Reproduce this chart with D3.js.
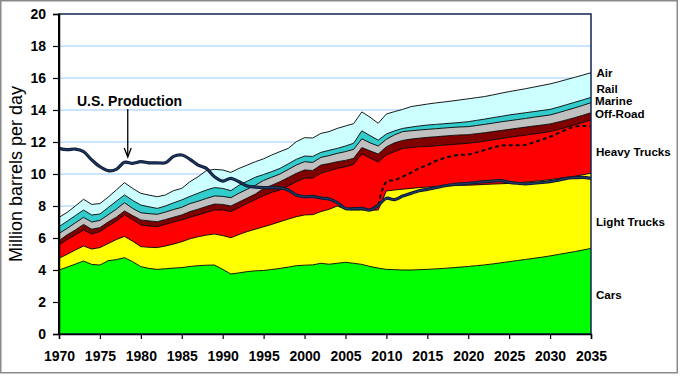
<!DOCTYPE html>
<html><head><meta charset="utf-8">
<script src="https://cdn.jsdelivr.net/npm/d3@7"></script>
<style>
html,body{margin:0;padding:0;background:#fff;}
svg{display:block;font-family:"Liberation Sans",Arial,sans-serif;}
</style></head>
<body><svg id="chart" width="680" height="376"></svg>
<script>
// ---------------- DATA (million barrels per day) ----------------
const years = d3.range(1970, 2036);
const cars = [4.00,4.18,4.37,4.56,4.35,4.31,4.58,4.65,4.77,4.52,4.21,4.10,4.04,4.08,4.12,4.15,4.22,4.27,4.30,4.31,
  4.04,3.75,3.82,3.90,3.95,3.97,4.03,4.10,4.18,4.27,4.30,4.32,4.42,4.36,4.42,4.48,4.42,4.35,4.22,4.12,
  4.04,4.02,4.00,4.00,4.02,4.04,4.07,4.10,4.14,4.18,4.22,4.27,4.32,4.38,4.45,4.52,4.59,4.66,4.73,4.80,
  4.88,4.97,5.06,5.15,5.25,5.35];
const lightTrucks = [0.73,0.80,0.88,0.94,0.96,1.09,1.07,1.25,1.33,1.28,1.25,1.32,1.36,1.42,1.50,1.62,1.73,1.81,1.88,1.94,
  2.11,2.27,2.40,2.50,2.60,2.73,2.82,2.92,3.00,3.06,3.14,3.14,3.23,3.43,3.58,3.32,3.33,3.40,3.51,3.63,
  4.90,4.98,5.05,5.10,5.13,5.14,5.14,5.14,5.13,5.11,5.08,5.05,5.03,4.99,4.94,4.89,4.86,4.83,4.81,4.79,
  4.77,4.75,4.73,4.71,4.70,4.70];
const heavyTrucks = [0.83,0.92,0.95,1.00,0.94,1.00,1.10,1.15,1.34,1.35,1.35,1.33,1.31,1.35,1.38,1.36,1.35,1.36,1.42,1.50,
  1.60,1.63,1.68,1.77,1.85,1.95,2.00,1.98,2.07,2.19,2.29,2.29,2.39,2.41,2.35,2.65,2.85,3.50,3.27,3.00,
  2.26,2.40,2.55,2.55,2.55,2.54,2.55,2.56,2.57,2.59,2.62,2.66,2.70,2.76,2.82,2.88,2.91,2.94,2.96,2.98,
  3.00,3.06,3.13,3.21,3.27,3.33];
const offRoad = [0.27,0.30,0.30,0.35,0.30,0.25,0.25,0.25,0.25,0.25,0.32,0.32,0.31,0.30,0.30,0.31,0.35,0.36,0.37,0.37,
  0.35,0.35,0.35,0.33,0.35,0.45,0.45,0.52,0.53,0.52,0.52,0.47,0.52,0.45,0.42,0.40,0.38,0.40,0.45,0.50,
  0.50,0.55,0.50,0.53,0.54,0.57,0.57,0.57,0.57,0.56,0.54,0.54,0.53,0.52,0.51,0.50,0.50,0.50,0.50,0.49,
  0.48,0.47,0.46,0.45,0.45,0.45];
const marine = [0.46,0.40,0.45,0.44,0.45,0.45,0.45,0.50,0.52,0.45,0.45,0.45,0.46,0.47,0.48,0.48,0.50,0.50,0.50,0.51,
  0.50,0.52,0.55,0.55,0.55,0.50,0.50,0.48,0.50,0.52,0.52,0.50,0.48,0.50,0.52,0.55,0.56,0.55,0.50,0.50,
  0.47,0.50,0.55,0.52,0.51,0.50,0.50,0.50,0.50,0.50,0.50,0.51,0.52,0.53,0.54,0.54,0.54,0.54,0.55,0.56,
  0.56,0.58,0.60,0.61,0.62,0.63];
const rail = [0.42,0.45,0.45,0.46,0.44,0.40,0.45,0.50,0.48,0.50,0.48,0.43,0.37,0.38,0.42,0.46,0.45,0.50,0.53,0.52,
  0.50,0.44,0.50,0.50,0.50,0.37,0.35,0.35,0.35,0.36,0.35,0.38,0.31,0.33,0.31,0.35,0.38,0.50,0.45,0.37,
  0.33,0.25,0.20,0.23,0.25,0.27,0.27,0.27,0.27,0.28,0.31,0.32,0.33,0.34,0.34,0.36,0.36,0.36,0.35,0.35,
  0.35,0.35,0.35,0.35,0.34,0.33];
const air = [0.58,0.55,0.60,0.67,0.66,0.65,0.65,0.70,0.77,0.75,0.73,0.73,0.73,0.69,0.76,0.72,0.92,1.03,1.21,1.14,
  1.15,1.14,1.05,1.01,0.97,0.98,1.04,1.05,0.97,1.10,1.15,1.15,1.19,1.17,1.25,1.25,1.23,1.18,1.15,1.05,
  1.25,1.20,1.19,1.28,1.29,1.31,1.34,1.36,1.38,1.41,1.43,1.42,1.41,1.42,1.45,1.46,1.48,1.50,1.53,1.56,
  1.59,1.58,1.57,1.56,1.55,1.54];
const usProduction = [11.60,11.52,11.56,11.40,10.88,10.46,10.21,10.29,10.73,10.67,10.77,10.70,10.70,10.70,11.10,11.19,10.92,10.56,10.35,9.83,
  9.56,9.73,9.52,9.25,9.18,9.15,9.15,9.13,9.00,8.69,8.58,8.60,8.50,8.44,8.21,7.85,7.83,7.85,7.75,8.05,
  8.48,8.40,8.62,8.79,8.95,9.04,9.15,9.25,9.33,9.38,9.42,9.47,9.52,9.56,9.58,9.48,9.42,9.38,9.42,9.47,
  9.52,9.62,9.73,9.77,9.79,9.73];
const dashedYears = d3.range(2009, 2036);
const dashedSeries = [8.05,9.52,9.62,9.83,10.08,10.35,10.56,10.81,10.98,11.12,11.20,11.22,11.35,11.50,11.65,11.78,11.80,11.80,11.82,11.98,12.15,12.33,12.55,12.78,12.96,13.00,12.98];

const categories = ["Cars","Light Trucks","Heavy Trucks","Off-Road","Marine","Rail","Air"];
const seriesValues = [cars, lightTrucks, heavyTrucks, offRoad, marine, rail, air];
const colors = ["#00ff00","#ffff00","#ff0000","#800000","#c0c0c0","#33cccc","#ccffff"];
const yTicks = d3.range(0, 21, 2);
const xTicks = d3.range(1970, 2036, 5);
const annotation = "U.S. Production";
const yTitle = "Million barrels per day";

// ---------------- CHART ----------------
const svg = d3.select("#chart");
const L = 59, R = 591, T = 14, B = 334;
const x = d3.scaleLinear().domain([1970, 2035]).range([L, R]);
const y = d3.scaleLinear().domain([0, 20]).range([B, T]);

// outer frame
svg.append("rect").attr("x", 0.75).attr("y", 0.75).attr("width", 676.5).attr("height", 372)
  .attr("fill", "#fff").attr("stroke", "#8a8a8a").attr("stroke-width", 1.5);

// gridlines
svg.append("g").selectAll("line").data(yTicks.filter(d => d > 0 && d < 20)).join("line")
  .attr("x1", L).attr("x2", R).attr("y1", d => y(d)).attr("y2", d => y(d))
  .attr("stroke", "#99ccff").attr("stroke-width", 1);

// stacked areas
const table = years.map((yr, i) => {
  const o = { year: yr };
  categories.forEach((c, k) => o[c] = seriesValues[k][i]);
  return o;
});
const stack = d3.stack().keys(categories)(table);
const area = d3.area().x(d => x(d.data.year)).y0(d => y(d[0])).y1(d => y(d[1]));
const topLine = d3.line().x(d => x(d.data.year)).y(d => y(d[1]));
svg.append("g").selectAll("path").data(stack).join("path")
  .attr("d", area).attr("fill", (d, i) => colors[i]).attr("stroke", "none");
svg.append("g").selectAll("path").data(stack).join("path")
  .attr("d", topLine).attr("fill", "none").attr("stroke", "#000").attr("stroke-width", 0.9);

// dashed line
const dashLine = d3.line().x((d, i) => x(dashedYears[i])).y(d => y(d)).curve(d3.curveCatmullRom.alpha(0.5));
svg.append("path").datum(dashedSeries).attr("d", dashLine).attr("fill", "none")
  .attr("stroke", "#111").attr("stroke-width", 2).attr("stroke-dasharray", "4,3");

// production line
const prodLine = d3.line().x((d, i) => x(years[i])).y(d => y(d)).curve(d3.curveCatmullRom.alpha(0.5));
svg.append("path").datum(usProduction).attr("d", prodLine).attr("fill", "none")
  .attr("stroke", "#0d1b33").attr("stroke-width", 3.2).attr("stroke-linejoin", "round");
svg.append("path").datum(usProduction).attr("d", prodLine).attr("fill", "none")
  .attr("stroke", "#1f3a66").attr("stroke-width", 1.2).attr("stroke-linejoin", "round");

// plot border
svg.append("rect").attr("x", L).attr("y", T).attr("width", R - L).attr("height", B - T)
  .attr("fill", "none").attr("stroke", "#12264f").attr("stroke-width", 1.5);
svg.append("line").attr("x1", L).attr("x2", L).attr("y1", T).attr("y2", B)
  .attr("stroke", "#000").attr("stroke-width", 2);

// axes
const yAxis = svg.append("g").attr("transform", `translate(${L},0)`)
  .call(d3.axisLeft(y).tickValues(yTicks).tickSize(6).tickPadding(7));
const xAxis = svg.append("g").attr("transform", `translate(0,${B})`)
  .call(d3.axisBottom(x).tickValues(xTicks).tickFormat(d3.format("d")).tickSize(5).tickPadding(12));
[yAxis, xAxis].forEach(g => {
  g.select(".domain").attr("stroke", "#000").attr("stroke-width", 1.5);
  g.selectAll(".tick line").attr("stroke", "#000").attr("stroke-width", 1.2);
  g.selectAll(".tick text").attr("fill", "#000").style("font-family", '"Liberation Sans",Arial,sans-serif')
    .style("font-size", "14px").style("font-weight", "bold");
});

// y title
svg.append("text").attr("transform", `translate(22,${(T + B) / 2}) rotate(-90)`)
  .attr("text-anchor", "middle").style("font-size", "18px").attr("fill", "#000").text(yTitle);

// series labels
const labelPos = [
  {t: "Cars", yv: 298.5, xv: 596},
  {t: "Light Trucks", yv: 226, xv: 596},
  {t: "Heavy Trucks", yv: 156, xv: 596},
  {t: "Off-Road", yv: 117.5, xv: 595},
  {t: "Marine", yv: 104.8, xv: 595},
  {t: "Rail", yv: 92.5, xv: 596.5},
  {t: "Air", yv: 77, xv: 596.5}
];
svg.append("g").selectAll("text").data(labelPos).join("text")
  .attr("x", d => d.xv).attr("y", d => d.yv).text(d => d.t)
  .style("font-size", "11.6px").style("font-weight", "bold").attr("fill", "#000");

// annotation
svg.append("text").attr("x", 77).attr("y", 105.5).text(annotation)
  .style("font-size", "14px").style("font-weight", "bold").attr("fill", "#000");
const ax = x(1978.4);
svg.append("line").attr("x1", ax).attr("x2", ax).attr("y1", 109).attr("y2", 157)
  .attr("stroke", "#000").attr("stroke-width", 1.3);
svg.append("path").attr("d", `M${ax - 3.5},148 L${ax},157 L${ax + 3.5},148`)
  .attr("fill", "none").attr("stroke", "#000").attr("stroke-width", 1.3);
</script></body></html>
